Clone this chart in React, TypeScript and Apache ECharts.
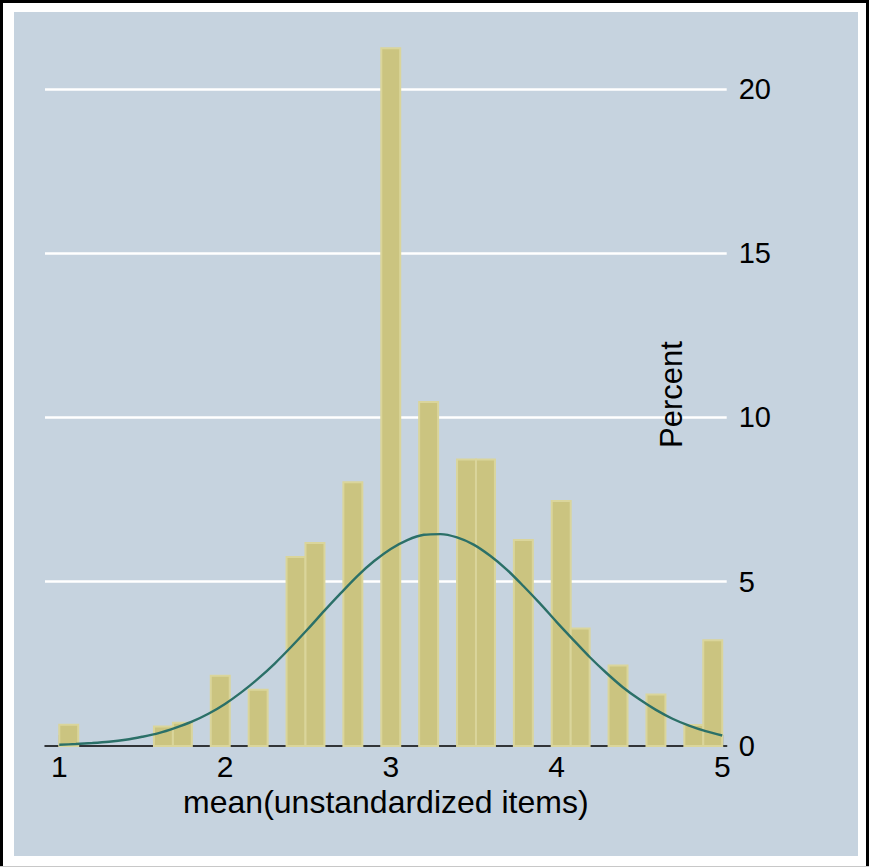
import React, { useEffect, useRef } from "react";
import * as echarts from "echarts";

// Histogram bins (lower edges) and their heights in percent
const binWidth = 4 / 35;
const binLower = [
  1.0, 1.5714, 1.6857, 1.9143, 2.1429, 2.3714, 2.4857, 2.7143, 2.9429, 3.1714,
  3.4, 3.5143, 3.7429, 3.9714, 4.0857, 4.3143, 4.5429, 4.7714, 4.8857,
];
const percent = [
  0.65, 0.59, 0.71, 2.14, 1.71, 5.75, 6.18, 8.03, 21.24, 10.47,
  8.72, 8.72, 6.27, 7.46, 3.58, 2.45, 1.57, 0.64, 3.22,
];

// Normal density overlay (percent)
const curveX = [
  1.0, 1.1, 1.2, 1.3, 1.4, 1.5, 1.6, 1.7, 1.8, 1.9, 2.0, 2.1, 2.2, 2.3, 2.4,
  2.5, 2.6, 2.7, 2.8, 2.9, 3.0, 3.1, 3.2, 3.3, 3.4, 3.5, 3.6, 3.7, 3.8, 3.9,
  4.0, 4.1, 4.2, 4.3, 4.4, 4.5, 4.6, 4.7, 4.8, 4.9, 5.0,
];
const curvePct = [
  0.04, 0.06, 0.09, 0.13, 0.19, 0.28, 0.39, 0.55, 0.74, 0.98, 1.28, 1.64,
  2.05, 2.51, 3.02, 3.56, 4.12, 4.66, 5.18, 5.63, 6.0, 6.27, 6.43, 6.45,
  6.35, 6.13, 5.79, 5.37, 4.87, 4.34, 3.78, 3.24, 2.71, 2.23, 1.79, 1.42,
  1.1, 0.83, 0.62, 0.45, 0.32,
];

const xTicks = [1, 2, 3, 4, 5];
const yTicks = [0, 5, 10, 15, 20];
const yGridTicks = [5, 10, 15, 20];

const FONT = "'Liberation Sans', Arial, Helvetica, sans-serif";

export default function App() {
  const ref = useRef<HTMLDivElement>(null);

  useEffect(() => {
    if (!ref.current) return;
    const chart = echarts.init(ref.current, undefined, { renderer: "svg" });

    const barData = binLower.map((l, i) => [l, l + binWidth, percent[i]]);
    const lineData = curveX.map((x, i) => [x, curvePct[i]]);

    chart.setOption({
      animation: false,
      backgroundColor: "#ffffff",
      textStyle: { fontFamily: FONT },
      graphic: [
        { type: "rect", z: -100, silent: true, shape: { x: 0, y: 0, width: 869, height: 867 }, style: { fill: "#000000" } },
        { type: "rect", z: -99, silent: true, shape: { x: 3, y: 3, width: 863, height: 863 }, style: { fill: "#ffffff" } },
        { type: "rect", z: -99, silent: true, shape: { x: 0, y: 866, width: 869, height: 1 }, style: { fill: "#c8c8c8" } },
        { type: "rect", z: -98, silent: true, shape: { x: 14, y: 12, width: 844, height: 844 }, style: { fill: "#c6d3df" } },
        {
          type: "text",
          z: 50,
          x: 671,
          y: 394.5,
          rotation: Math.PI / 2,
          style: {
            text: "Percent",
            fill: "#000000",
            font: `31px ${FONT}`,
            align: "center",
            verticalAlign: "middle",
            textAlign: "center",
            textVerticalAlign: "middle",
          },
        },
      ],
      grid: {
        left: 45,
        top: 43,
        width: 681.7,
        height: 703,
        outerBoundsMode: "none",
        containLabel: false,
      },
      xAxis: {
        type: "value",
        min: 0.914,
        max: 5.027,
        axisLine: { show: true, onZero: false, lineStyle: { color: "#000000", width: 1.5 } },
        axisTick: {
          show: true,
          inside: true,
          length: 11,
          customValues: xTicks,
          lineStyle: { color: "#000000", width: 1.2 },
        },
        axisLabel: {
          customValues: xTicks,
          fontSize: 30,
          color: "#000000",
          margin: 5,
          fontFamily: FONT,
        },
        splitLine: { show: false },
        name: "mean(unstandardized items)",
        nameLocation: "middle",
        nameGap: 33,
        nameTextStyle: { fontSize: 32, color: "#000000", fontFamily: FONT },
      },
      yAxis: {
        type: "value",
        position: "right",
        min: 0,
        max: 21.4,
        axisLine: { show: false },
        axisTick: { show: false, customValues: yGridTicks },
        axisLabel: {
          customValues: yTicks,
          fontSize: 29,
          color: "#000000",
          margin: 12,
          fontFamily: FONT,
        },
        splitLine: { show: true, lineStyle: { color: "#ffffff", width: 2.5 } },
      },
      series: [
        {
          type: "custom",
          z: 2,
          data: barData,
          encode: { x: [0, 1], y: 2 },
          renderItem: (params: any, api: any) => {
            const x0 = api.value(0);
            const x1 = api.value(1);
            const v = api.value(2);
            const p0 = api.coord([x0, v]);
            const p1 = api.coord([x1, 0]);
            return {
              type: "rect",
              shape: { x: p0[0], y: p0[1], width: p1[0] - p0[0], height: p1[1] - p0[1] },
              style: { fill: "#cbc480", stroke: "#dad59b", lineWidth: 2 },
            };
          },
        },
        {
          type: "line",
          z: 3,
          data: lineData,
          smooth: 0.3,
          showSymbol: false,
          symbol: "none",
          lineStyle: { color: "#2b7068", width: 2.4 },
        },
      ],
    });

    return () => chart.dispose();
  }, []);

  return (
    <div
      ref={ref}
      style={{ position: "absolute", left: 0, top: 0, width: 869, height: 867 }}
    />
  );
}
